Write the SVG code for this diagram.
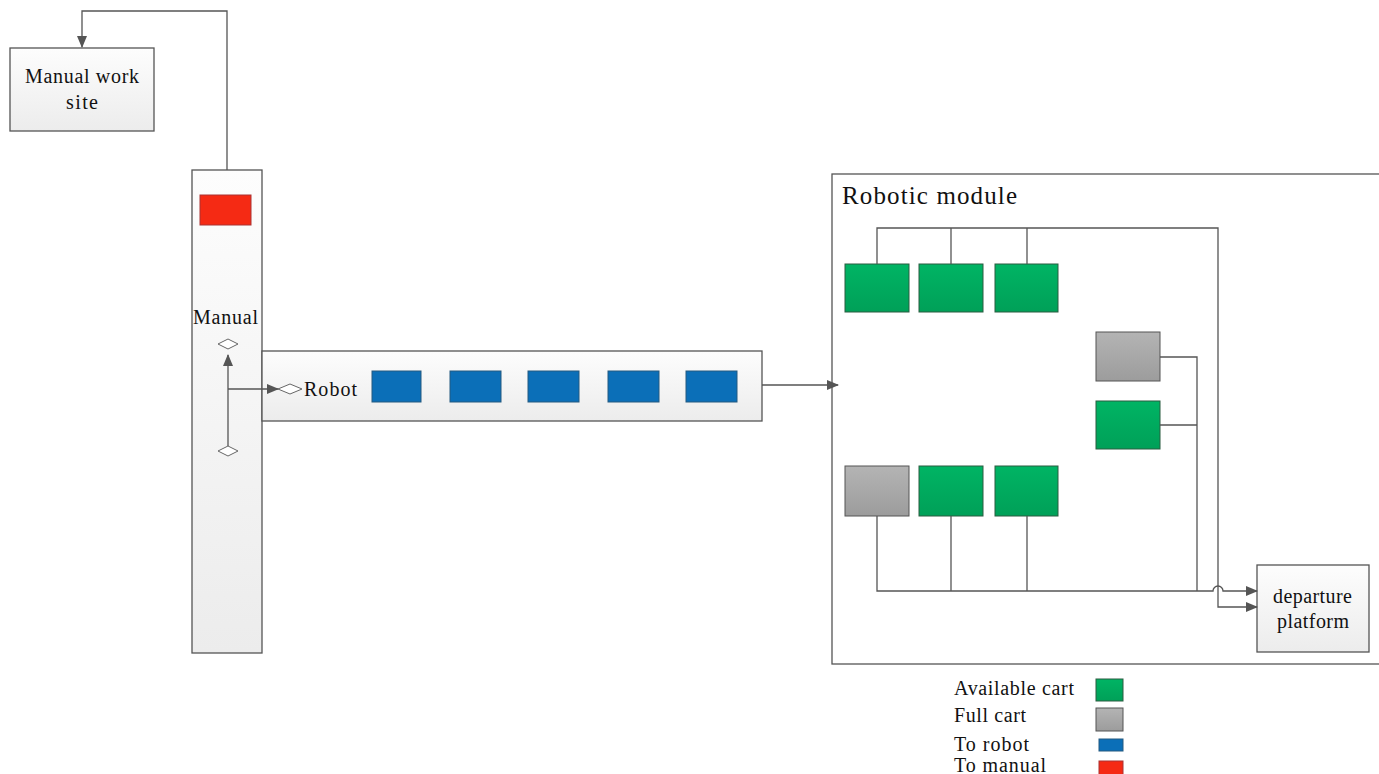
<svg xmlns="http://www.w3.org/2000/svg" width="1379" height="774" viewBox="0 0 1379 774">
<style>
text{font-family:"Liberation Serif","Times New Roman",serif;fill:#111;font-size:20px}
.box{fill:url(#gBox);stroke:#555;stroke-width:1.3}
.frame{fill:#fff;stroke:#555;stroke-width:1.3}
.green{fill:url(#gGreen);stroke:#2b5d40;stroke-width:1}
.gray{fill:url(#gGray);stroke:#555;stroke-width:1}
.blue{fill:#0b6fb8;stroke:#245a80;stroke-width:1}
.red{fill:#f52a14;stroke:#a33;stroke-width:1}
.ln{fill:none;stroke:#555;stroke-width:1.3}
.dia{fill:#fff;stroke:#666;stroke-width:1}
</style>
<defs>
<linearGradient id="gBox" x1="0" y1="0" x2="0" y2="1"><stop offset="0" stop-color="#fdfdfd"/><stop offset="1" stop-color="#ececec"/></linearGradient>
<linearGradient id="gGreen" x1="0" y1="0" x2="0" y2="1"><stop offset="0" stop-color="#00b464"/><stop offset="1" stop-color="#00a058"/></linearGradient>
<linearGradient id="gGray" x1="0" y1="0" x2="0" y2="1"><stop offset="0" stop-color="#b4b4b4"/><stop offset="1" stop-color="#9c9c9c"/></linearGradient>
<marker id="arr" markerWidth="12" markerHeight="10" refX="11" refY="5" orient="auto" markerUnits="userSpaceOnUse"><path d="M0,0 L12,5 L0,10 Z" fill="#555"/></marker>
</defs>

<g id="manual-work-site">
<rect class="box" x="10" y="48" width="144" height="83"/>
<text x="25" y="83" textLength="114" lengthAdjust="spacing">Manual work</text>
<text x="66" y="109" textLength="32" lengthAdjust="spacing">site</text>
</g>

<g id="manual-lane">
<rect class="box" x="192" y="170" width="70" height="483"/>
<rect class="red" x="200" y="195" width="51" height="30"/>
<text x="193" y="324" textLength="65" lengthAdjust="spacing">Manual</text>
<path class="dia" d="M218,344 L228,339 L238,344 L228,349 Z"/>
<path class="dia" d="M218,451 L228,446 L238,451 L228,456 Z"/>
</g>

<g id="robot-lane">
<rect class="box" x="262" y="351" width="500" height="70"/>
<path class="dia" d="M278,389 L290,384 L302,389 L290,394 Z"/>
<text x="304" y="396" textLength="53" lengthAdjust="spacing">Robot</text>
<rect class="blue" x="372" y="371" width="49" height="31"/>
<rect class="blue" x="450" y="371" width="51" height="31"/>
<rect class="blue" x="528" y="371" width="51" height="31"/>
<rect class="blue" x="608" y="371" width="51" height="31"/>
<rect class="blue" x="686" y="371" width="51" height="31"/>
</g>

<g id="robotic-module">
<rect class="frame" x="832" y="174" width="560" height="490"/>
<text x="842" y="204" style="font-size:25px" textLength="175" lengthAdjust="spacing">Robotic module</text>
<rect class="green" x="845" y="264" width="64" height="48"/>
<rect class="green" x="919" y="264" width="64" height="48"/>
<rect class="green" x="995" y="264" width="63" height="48"/>
<rect class="gray" x="1096" y="332" width="64" height="49"/>
<rect class="green" x="1096" y="401" width="64" height="48"/>
<rect class="gray" x="845" y="466" width="64" height="50"/>
<rect class="green" x="919" y="466" width="64" height="50"/>
<rect class="green" x="995" y="466" width="63" height="50"/>
</g>

<g id="departure-platform">
<rect class="box" x="1257" y="565" width="112" height="87"/>
<text x="1273" y="603" textLength="79" lengthAdjust="spacing">departure</text>
<text x="1277" y="628" textLength="72" lengthAdjust="spacing">platform</text>
</g>

<g id="connectors">
<path class="ln" d="M227,170 V11 H82 V47" marker-end="url(#arr)"/>
<path class="ln" d="M228,446 V355" marker-end="url(#arr)"/>
<path class="ln" d="M228,389 H278" marker-end="url(#arr)"/>
<path class="ln" d="M762,385 H838" marker-end="url(#arr)"/>
<path class="ln" d="M877,264 V228 H1218 V607 H1257" marker-end="url(#arr)"/>
<path class="ln" d="M951,264 V228"/>
<path class="ln" d="M1027,264 V228"/>
<path class="ln" d="M1160,357 H1197 V591"/>
<path class="ln" d="M1160,425 H1197"/>
<path class="ln" d="M877,516 V591 H1213 A5,5 0 0 1 1223,591 H1257" marker-end="url(#arr)"/>
<path class="ln" d="M951,516 V591"/>
<path class="ln" d="M1027,516 V591"/>
</g>

<g id="legend">
<text x="954" y="695" textLength="120" lengthAdjust="spacing">Available cart</text>
<rect class="green" x="1096" y="679" width="27" height="22"/>
<text x="954" y="722" textLength="72" lengthAdjust="spacing">Full cart</text>
<rect class="gray" x="1096" y="708" width="27" height="23"/>
<text x="954" y="751" textLength="75" lengthAdjust="spacing">To robot</text>
<rect class="blue" x="1099" y="739" width="24" height="12"/>
<text x="954" y="772" textLength="92" lengthAdjust="spacing">To manual</text>
<rect class="red" x="1099" y="761" width="24" height="14"/>
</g>
</svg>
